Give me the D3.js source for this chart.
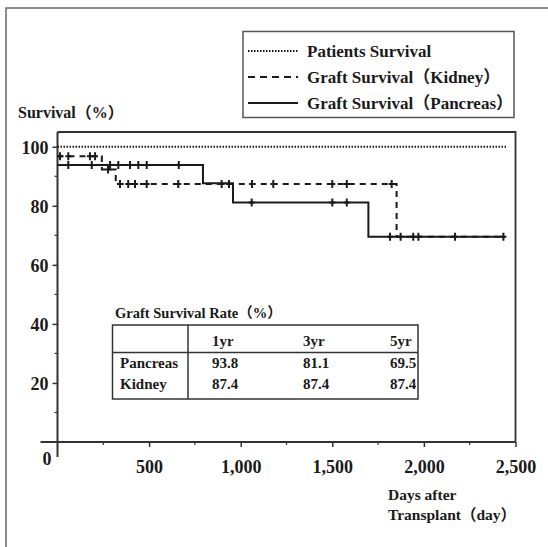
<!DOCTYPE html>
<html>
<head>
<meta charset="utf-8">
<script src="https://cdn.jsdelivr.net/npm/d3@7"></script>
<style>
  body { margin: 0; background: #fff; }
  svg text { font-family: "Liberation Serif", "Noto Sans CJK SC", serif; font-weight: bold; fill: #1a1a1a; }
</style>
</head>
<body>
<script>
// Kaplan-Meier steps: [day, survival %]
const patientSteps = [[0, 100], [2452, 100]];
const kidneySteps = [[0, 96.8], [242, 92.3], [318, 87.4], [1851, 69.5], [2443, 69.5]];
const pancreasSteps = [[0, 93.8], [794, 87.6], [958, 81.1], [1697, 69.5], [2443, 69.5]];

// censored cases (days)
const kidneyCensor = [14, 59, 177, 205, 276, 341, 386, 423, 487, 659, 896, 936, 1062, 1178, 1500, 1579, 1824];
const pancreasCensor = [59, 187, 287, 332, 396, 441, 487, 662, 1060, 1500, 1579, 1815, 1873, 1942, 1970, 2170, 2434];

const yTicks = [20, 40, 60, 80, 100];
const yMinor = [10, 30, 50, 70, 90];
const xTicks = [500, 1000, 1500, 2000, 2500];
const xMinor = [250, 750, 1250, 1750, 2250];

const legendLabels = ["Patients Survival", "Graft Survival（Kidney）", "Graft Survival（Pancreas）"];
const tableTitle = "Graft Survival Rate（%）";
const tableColumns = ["1yr", "3yr", "5yr"];
const tableRows = ["Pancreas", "Kidney"];
const tableValues = [["93.8", "81.1", "69.5"], ["87.4", "87.4", "87.4"]];

const ink = "#1a1a1a";

const svg = d3.select("body").append("svg")
  .attr("width", 548)
  .attr("height", 547);

// outer frame (left + top only)
svg.append("path")
  .attr("d", "M6,547V8H548")
  .attr("fill", "none")
  .attr("stroke", "#666")
  .attr("stroke-width", 1.5);

const x = d3.scaleLinear().domain([0, 2500]).range([57.5, 515.5]);
const y = d3.scaleLinear().domain([0, 105]).range([442, 132]);

// plot box
svg.append("path")
  .attr("d", `M${x(0)},${y(105)}H${x(2500)}V${y(0)}`)
  .attr("fill", "none")
  .attr("stroke", "#333")
  .attr("stroke-width", 1.8);

// axes lines extend past the origin
svg.append("line")
  .attr("x1", x(0)).attr("x2", x(0))
  .attr("y1", y(105)).attr("y2", y(0) + 15)
  .attr("stroke", "#333").attr("stroke-width", 2);
svg.append("line")
  .attr("x1", x(0) - 17).attr("x2", x(2500))
  .attr("y1", y(0)).attr("y2", y(0))
  .attr("stroke", "#333").attr("stroke-width", 2);

// y axis ticks
const yAxis = svg.append("g")
  .attr("transform", `translate(${x(0)},0)`)
  .call(d3.axisLeft(y).tickValues(yTicks).tickSize(5).tickPadding(4));
yAxis.select(".domain").remove();
yAxis.selectAll(".tick line").attr("stroke", "#333").attr("stroke-width", 1.5);
yAxis.selectAll(".tick text").attr("font-size", 18).attr("fill", ink)
  .attr("font-family", null).attr("dy", "0.35em");

svg.append("g").selectAll("line")
  .data(yMinor).join("line")
  .attr("x1", x(0) - 3).attr("x2", x(0))
  .attr("y1", (d) => y(d)).attr("y2", (d) => y(d))
  .attr("stroke", "#333").attr("stroke-width", 1.2);

// x axis ticks
const xAxis = svg.append("g")
  .attr("transform", `translate(0,${y(0)})`)
  .call(d3.axisBottom(x).tickValues(xTicks).tickSize(5).tickPadding(13).tickFormat(d3.format(",")));
xAxis.select(".domain").remove();
xAxis.selectAll(".tick line").attr("stroke", "#333").attr("stroke-width", 1.5);
xAxis.selectAll(".tick text").attr("font-size", 18).attr("fill", ink)
  .attr("font-family", null).attr("dy", "0.71em");

svg.append("g").selectAll("line")
  .data(xMinor).join("line")
  .attr("x1", (d) => x(d)).attr("x2", (d) => x(d))
  .attr("y1", y(0)).attr("y2", y(0) + 3)
  .attr("stroke", "#333").attr("stroke-width", 1.2);

svg.append("text")
  .attr("x", 47).attr("y", 465)
  .attr("text-anchor", "middle")
  .attr("font-size", 18)
  .text("0");

// axis titles
svg.append("text")
  .attr("x", 18).attr("y", 118)
  .attr("font-size", 16)
  .text("Survival（%）");

svg.append("text")
  .attr("x", 388).attr("y", 500)
  .attr("font-size", 15.5)
  .text("Days after");
svg.append("text")
  .attr("x", 388).attr("y", 520)
  .attr("font-size", 15.5)
  .text("Transplant（day）");

// survival curves
const line = d3.line()
  .x((d) => x(d[0]))
  .y((d) => y(d[1]))
  .curve(d3.curveStepAfter);

svg.append("path")
  .datum(patientSteps)
  .attr("d", line)
  .attr("fill", "none")
  .attr("stroke", ink)
  .attr("stroke-width", 1.8)
  .attr("stroke-dasharray", "1.5,1.5");

svg.append("path")
  .datum(pancreasSteps)
  .attr("d", line)
  .attr("fill", "none")
  .attr("stroke", ink)
  .attr("stroke-width", 2);

svg.append("path")
  .datum(kidneySteps)
  .attr("d", line)
  .attr("fill", "none")
  .attr("stroke", ink)
  .attr("stroke-width", 2)
  .attr("stroke-dasharray", "6,5");

// value of a step curve on a given day
function stepValue(steps, day) {
  let v = steps[0][1];
  steps.forEach((s) => { if (s[0] <= day) v = s[1]; });
  return v;
}

function drawCensor(days, steps) {
  svg.append("g").selectAll("path")
    .data(days).join("path")
    .attr("d", (d) => {
      const cx = x(d), cy = y(stepValue(steps, d));
      return `M${cx},${cy - 4}V${cy + 4}M${cx - 3},${cy}H${cx + 3}`;
    })
    .attr("fill", "none")
    .attr("stroke", ink)
    .attr("stroke-width", 2);
}
drawCensor(kidneyCensor, kidneySteps);
drawCensor(pancreasCensor, pancreasSteps);

// legend
const legend = svg.append("g");
legend.append("rect")
  .attr("x", 243).attr("y", 31.5)
  .attr("width", 271).attr("height", 86)
  .attr("fill", "#fff")
  .attr("stroke", "#555")
  .attr("stroke-width", 1.5);

const legendDash = ["1.5,1.5", "7,5", null];
legendLabels.forEach((label, i) => {
  const ly = 51 + i * 26;
  legend.append("line")
    .attr("x1", 248).attr("x2", 298)
    .attr("y1", ly).attr("y2", ly)
    .attr("stroke", ink)
    .attr("stroke-width", i === 0 ? 1.8 : 2)
    .attr("stroke-dasharray", legendDash[i]);
  legend.append("text")
    .attr("x", 307).attr("y", ly + 5.5)
    .attr("font-size", 17)
    .text(label);
});

// survival rate table
const table = svg.append("g");
table.append("text")
  .attr("x", 115).attr("y", 318)
  .attr("font-size", 14.5)
  .text(tableTitle);

table.append("rect")
  .attr("x", 112.5).attr("y", 325)
  .attr("width", 305.5).attr("height", 74)
  .attr("fill", "#fff")
  .attr("stroke", "#333")
  .attr("stroke-width", 1.5);
table.append("line")
  .attr("x1", 188).attr("x2", 188)
  .attr("y1", 325).attr("y2", 399)
  .attr("stroke", "#333").attr("stroke-width", 1.5);
table.append("line")
  .attr("x1", 112.5).attr("x2", 418)
  .attr("y1", 352.5).attr("y2", 352.5)
  .attr("stroke", "#333").attr("stroke-width", 1.5);

const colX = [212, 303, 390];
tableColumns.forEach((c, j) => {
  table.append("text")
    .attr("x", colX[j]).attr("y", 346)
    .attr("font-size", 15)
    .text(c);
});
tableRows.forEach((r, i) => {
  const ry = 368 + i * 21;
  table.append("text")
    .attr("x", 120).attr("y", ry)
    .attr("font-size", 15)
    .text(r);
  tableValues[i].forEach((v, j) => {
    table.append("text")
      .attr("x", colX[j]).attr("y", ry)
      .attr("font-size", 15)
      .text(v);
  });
});
</script>
</body>
</html>
